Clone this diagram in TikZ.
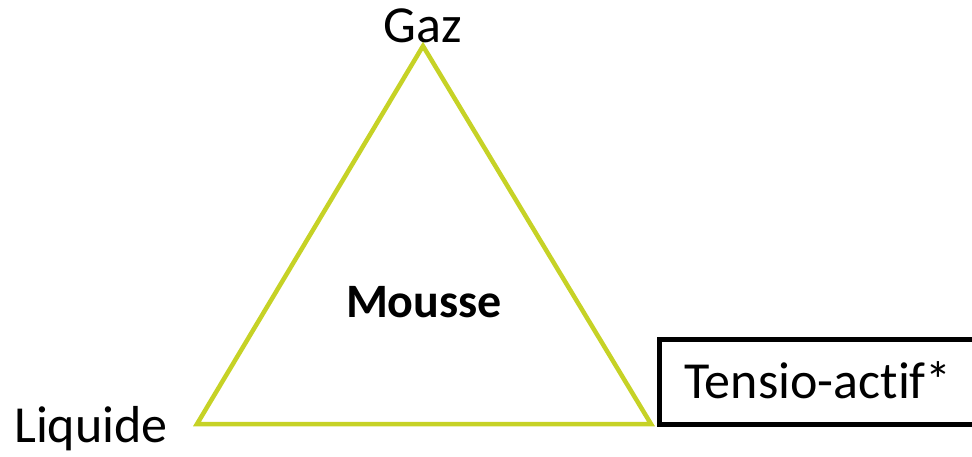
\documentclass[tikz,border=0pt]{standalone}
\usepackage{fontspec}
\setmainfont[Ligatures=NoCommon]{Carlito}
\definecolor{trigreen}{RGB}{198,210,38}

\begin{document}
\begin{tikzpicture}[x=1pt,y=-1pt,
    phase/.style={font=\fontsize{52}{62}\selectfont,inner sep=0pt,anchor=base},
    edge/.style={trigreen,line width=4.5pt,line join=miter}]
  \useasboundingbox (0,0) rectangle (972,456);
  \coordinate (gaz) at (423,46);
  \coordinate (liq) at (197,424);
  \coordinate (ten) at (651,424);
  \draw[edge] (gaz) -- (liq) -- (ten) -- cycle;
  \node[phase] (gazlabel) at (423,42) {Gaz};
  \node[phase] (liqlabel) at (91,442) {Liquide};
  \node[phase,font=\fontsize{48}{58}\selectfont\bfseries] (mousse) at (424,317) {Mousse};
  \node[draw,line width=5pt,minimum width=322,minimum height=85,anchor=north west]
    (tabox) at (657,337) {};
  \node[phase] (talabel) at (818,398) {Tensio-actif*};
\end{tikzpicture}
\end{document}
